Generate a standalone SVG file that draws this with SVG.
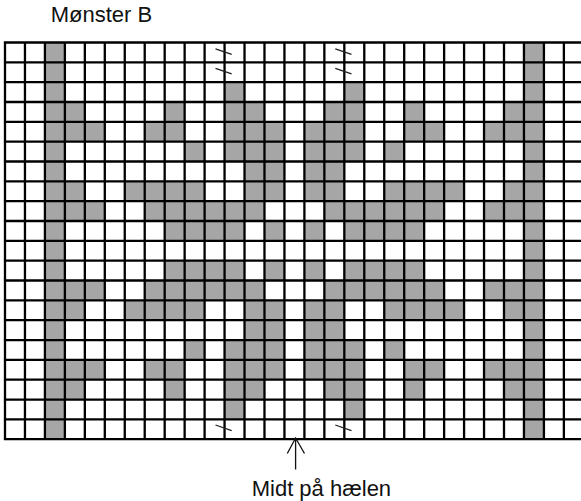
<svg xmlns="http://www.w3.org/2000/svg" width="581" height="501" viewBox="0 0 581 501">
<style>
  .lbl { font-family: "Liberation Sans", Arial, sans-serif; font-size: 22px; fill: #111; }
  .g { fill: #a6a6a6; }
  .grid { stroke: #000; stroke-width: 2.3; fill: none; }
  .mark { stroke: #222; stroke-width: 1.3; fill: none; }
</style>
<rect width="581" height="501" fill="#fff"/>
<text class="lbl" x="50.7" y="21.7">Mønster B</text>
<g id="chart">
  <g id="cells" transform="translate(5,42.5) scale(19.96,19.835)">
    <!-- row 0 -->
    <rect class="g" x="2" y="0" width="1" height="1"/><rect class="g" x="26" y="0" width="1" height="1"/>
    <!-- row 1 -->
    <rect class="g" x="2" y="1" width="1" height="1"/><rect class="g" x="26" y="1" width="1" height="1"/>
    <!-- row 2 -->
    <rect class="g" x="2" y="2" width="1" height="1"/><rect class="g" x="11" y="2" width="1" height="1"/><rect class="g" x="17" y="2" width="1" height="1"/><rect class="g" x="26" y="2" width="1" height="1"/>
    <!-- row 3 -->
    <rect class="g" x="2" y="3" width="2" height="1"/><rect class="g" x="8" y="3" width="1" height="1"/><rect class="g" x="11" y="3" width="2" height="1"/><rect class="g" x="16" y="3" width="2" height="1"/><rect class="g" x="20" y="3" width="1" height="1"/><rect class="g" x="25" y="3" width="2" height="1"/>
    <!-- row 4 -->
    <rect class="g" x="2" y="4" width="3" height="1"/><rect class="g" x="7" y="4" width="2" height="1"/><rect class="g" x="11" y="4" width="3" height="1"/><rect class="g" x="15" y="4" width="3" height="1"/><rect class="g" x="20" y="4" width="2" height="1"/><rect class="g" x="24" y="4" width="3" height="1"/>
    <!-- row 5 -->
    <rect class="g" x="2" y="5" width="1" height="1"/><rect class="g" x="9" y="5" width="1" height="1"/><rect class="g" x="11" y="5" width="3" height="1"/><rect class="g" x="15" y="5" width="3" height="1"/><rect class="g" x="19" y="5" width="1" height="1"/><rect class="g" x="26" y="5" width="1" height="1"/>
    <!-- row 6 -->
    <rect class="g" x="2" y="6" width="1" height="1"/><rect class="g" x="12" y="6" width="2" height="1"/><rect class="g" x="15" y="6" width="2" height="1"/><rect class="g" x="26" y="6" width="1" height="1"/>
    <!-- row 7 -->
    <rect class="g" x="2" y="7" width="2" height="1"/><rect class="g" x="6" y="7" width="4" height="1"/><rect class="g" x="12" y="7" width="2" height="1"/><rect class="g" x="15" y="7" width="2" height="1"/><rect class="g" x="19" y="7" width="4" height="1"/><rect class="g" x="25" y="7" width="2" height="1"/>
    <!-- row 8 -->
    <rect class="g" x="2" y="8" width="3" height="1"/><rect class="g" x="7" y="8" width="6" height="1"/><rect class="g" x="16" y="8" width="6" height="1"/><rect class="g" x="24" y="8" width="3" height="1"/>
    <!-- row 9 -->
    <rect class="g" x="2" y="9" width="1" height="1"/><rect class="g" x="8" y="9" width="4" height="1"/><rect class="g" x="13" y="9" width="1" height="1"/><rect class="g" x="15" y="9" width="1" height="1"/><rect class="g" x="17" y="9" width="4" height="1"/><rect class="g" x="26" y="9" width="1" height="1"/>
    <!-- row 10 -->
    <rect class="g" x="2" y="10" width="1" height="1"/><rect class="g" x="26" y="10" width="1" height="1"/>
    <!-- row 11 -->
    <rect class="g" x="2" y="11" width="1" height="1"/><rect class="g" x="8" y="11" width="4" height="1"/><rect class="g" x="13" y="11" width="1" height="1"/><rect class="g" x="15" y="11" width="1" height="1"/><rect class="g" x="17" y="11" width="4" height="1"/><rect class="g" x="26" y="11" width="1" height="1"/>
    <!-- row 12 -->
    <rect class="g" x="2" y="12" width="3" height="1"/><rect class="g" x="7" y="12" width="6" height="1"/><rect class="g" x="16" y="12" width="6" height="1"/><rect class="g" x="24" y="12" width="3" height="1"/>
    <!-- row 13 -->
    <rect class="g" x="2" y="13" width="2" height="1"/><rect class="g" x="6" y="13" width="4" height="1"/><rect class="g" x="12" y="13" width="2" height="1"/><rect class="g" x="15" y="13" width="2" height="1"/><rect class="g" x="19" y="13" width="4" height="1"/><rect class="g" x="25" y="13" width="2" height="1"/>
    <!-- row 14 -->
    <rect class="g" x="2" y="14" width="1" height="1"/><rect class="g" x="12" y="14" width="2" height="1"/><rect class="g" x="15" y="14" width="2" height="1"/><rect class="g" x="26" y="14" width="1" height="1"/>
    <!-- row 15 -->
    <rect class="g" x="2" y="15" width="1" height="1"/><rect class="g" x="9" y="15" width="1" height="1"/><rect class="g" x="11" y="15" width="3" height="1"/><rect class="g" x="15" y="15" width="3" height="1"/><rect class="g" x="19" y="15" width="1" height="1"/><rect class="g" x="26" y="15" width="1" height="1"/>
    <!-- row 16 -->
    <rect class="g" x="2" y="16" width="3" height="1"/><rect class="g" x="7" y="16" width="2" height="1"/><rect class="g" x="11" y="16" width="3" height="1"/><rect class="g" x="15" y="16" width="3" height="1"/><rect class="g" x="20" y="16" width="2" height="1"/><rect class="g" x="24" y="16" width="3" height="1"/>
    <!-- row 17 -->
    <rect class="g" x="2" y="17" width="2" height="1"/><rect class="g" x="8" y="17" width="1" height="1"/><rect class="g" x="11" y="17" width="2" height="1"/><rect class="g" x="16" y="17" width="2" height="1"/><rect class="g" x="20" y="17" width="1" height="1"/><rect class="g" x="25" y="17" width="2" height="1"/>
    <!-- row 18 -->
    <rect class="g" x="2" y="18" width="1" height="1"/><rect class="g" x="11" y="18" width="1" height="1"/><rect class="g" x="17" y="18" width="1" height="1"/><rect class="g" x="26" y="18" width="1" height="1"/>
    <!-- row 19 -->
    <rect class="g" x="2" y="19" width="1" height="1"/><rect class="g" x="26" y="19" width="1" height="1"/>
    <path class="grid" vector-effect="non-scaling-stroke" d="M0 0V20M1 0V20M2 0V20M3 0V20M4 0V20M5 0V20M6 0V20M7 0V20M8 0V20M9 0V20M10 0V20M11 0V20M12 0V20M13 0V20M14 0V20M15 0V20M16 0V20M17 0V20M18 0V20M19 0V20M20 0V20M21 0V20M22 0V20M23 0V20M24 0V20M25 0V20M26 0V20M27 0V20M28 0V20M29 0V20M-0.06 0H29.1M-0.06 1H29.1M-0.06 2H29.1M-0.06 3H29.1M-0.06 4H29.1M-0.06 5H29.1M-0.06 6H29.1M-0.06 7H29.1M-0.06 8H29.1M-0.06 9H29.1M-0.06 10H29.1M-0.06 11H29.1M-0.06 12H29.1M-0.06 13H29.1M-0.06 14H29.1M-0.06 15H29.1M-0.06 16H29.1M-0.06 17H29.1M-0.06 18H29.1M-0.06 19H29.1M-0.06 20H29.1"/>
  </g>
  <g id="marks">
    <path class="mark" d="M215.5 48.8L231.7 54.3M335.3 48.8L351.5 54.3M215.5 68.3L231.7 73.8M335.3 68.3L351.5 73.8M215.5 425L231.7 430.6M335.3 425L351.5 430.6"/>
  </g>
</g>
<g id="connectors">
  <path d="M295.6 438V469.5M287.3 453.5L295.6 438L304.5 453.5" fill="none" stroke="#111" stroke-width="1.3"/>
</g>
<text class="lbl" x="251.7" y="495.5">Midt på hælen</text>
</svg>
